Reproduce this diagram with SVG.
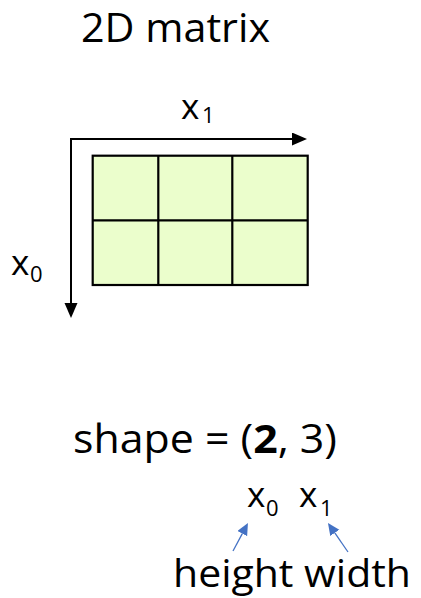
<svg xmlns="http://www.w3.org/2000/svg" width="421" height="598" viewBox="0 0 421 598">
  <style>
    .t { font-family: "Open Sans", "Noto Sans", "Liberation Sans", sans-serif; fill: #000; }
    .main { font-size: 40px; }
    .low { font-size: 39px; }
    .var { font-size: 35px; }
    .sub { font-size: 22px; }
    .cell { fill: #EBFECC; stroke: #000; stroke-width: 2.2; }
    .grid { stroke: #000; stroke-width: 2.2; fill: none; }
    .axis { stroke: #000; stroke-width: 2; fill: none; }
    .blue { stroke: #4472C4; stroke-width: 1.3; fill: none; }
  </style>
  <defs>
    <marker id="blackHead" markerUnits="userSpaceOnUse" markerWidth="16" markerHeight="14" refX="0" refY="6.5" orient="auto-start-reverse">
      <path d="M0,0 L15,6.5 L0,13 Z" fill="#000"/>
    </marker>
    <marker id="blueHead" markerUnits="userSpaceOnUse" markerWidth="14" markerHeight="12" refX="0" refY="5.5" orient="auto">
      <path d="M0,0 L12,5.5 L0,11 Z" fill="#4472C4"/>
    </marker>
  </defs>

  <g id="title">
    <text class="t main" x="81" y="42" textLength="189" lengthAdjust="spacingAndGlyphs">2D matrix</text>
  </g>

  <g id="matrix">
    <rect class="cell" x="92.7" y="155.7" width="215" height="129.3"/>
    <line class="grid" x1="158.3" y1="155.7" x2="158.3" y2="285"/>
    <line class="grid" x1="232.3" y1="155.7" x2="232.3" y2="285"/>
    <line class="grid" x1="92.7" y1="220.3" x2="307.7" y2="220.3"/>
  </g>

  <g id="label-x1">
    <text class="t var" x="181" y="119">x</text>
    <text class="t sub" x="202" y="123">1</text>
  </g>

  <g id="label-x0">
    <text class="t var" x="11" y="275">x</text>
    <text class="t sub" x="30" y="282">0</text>
  </g>

  <g id="shape">
    <text class="t main" x="73" y="453" textLength="264" lengthAdjust="spacingAndGlyphs">shape = (<tspan font-weight="bold">2</tspan>, 3)</text>
  </g>

  <g id="dims">
    <text class="t var" x="247" y="507">x</text>
    <text class="t sub" x="266" y="516">0</text>
    <text class="t var" x="299" y="507">x</text>
    <text class="t sub" x="320" y="516">1</text>
  </g>

  <g id="names">
    <text class="t low" x="173" y="587" textLength="238" lengthAdjust="spacingAndGlyphs">height width</text>
  </g>

  <g id="connectors">
    <path class="axis" d="M71,303 V139 H292" stroke-linejoin="miter" marker-start="url(#blackHead)" marker-end="url(#blackHead)"/>
    <line class="blue" x1="233" y1="551" x2="242.3" y2="533.6" marker-end="url(#blueHead)"/>
    <line class="blue" x1="348" y1="552" x2="334.8" y2="532.9" marker-end="url(#blueHead)"/>
  </g>
</svg>
